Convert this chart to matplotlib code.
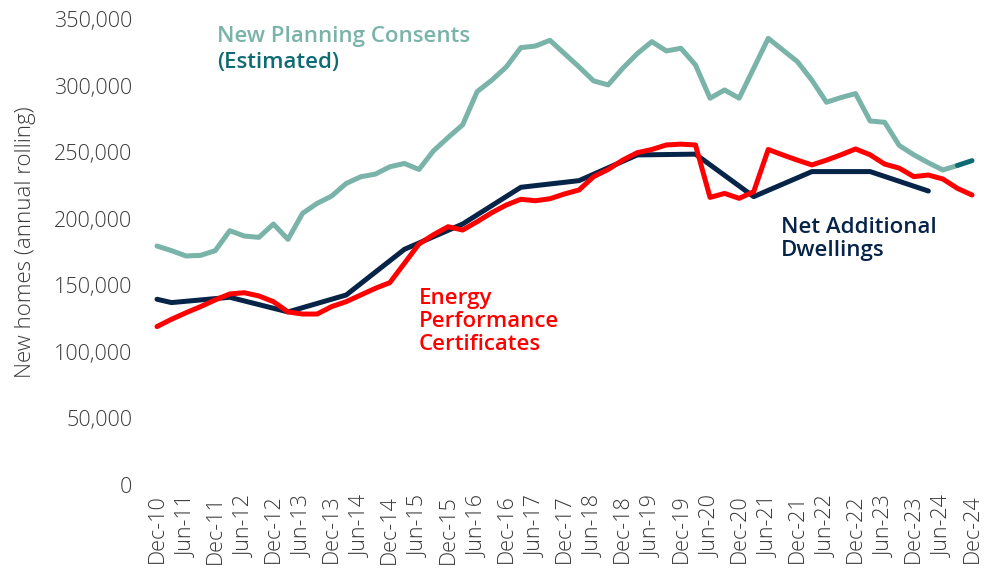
import matplotlib
matplotlib.use("Agg")
import matplotlib.pyplot as plt
import pandas as pd
from matplotlib.ticker import FuncFormatter

# quarterly axis, Dec-10 .. Dec-24
quarters = pd.date_range("2010-12-01", "2024-12-01", freq="3MS")
tick_labels = [d.strftime("%b-%y") for d in quarters]

# New planning consents (annual rolling)
consents = [179500, 176000, 172000, 172500, 176000, 191000, 187000, 186000,
            196000, 184500, 204000, 211500, 217000, 226500, 231500, 233500,
            239000, 241500, 237000, 251000, 261000, 270500, 295500, 304000,
            314000, 328500, 329700, 334000, 324000, 314000, 303500, 300500,
            313000, 324000, 333000, 326000, 328000, 315500, 290500, 296700,
            290500, 313000, 335500, 326700, 318000, 304000, 287500, 291000,
            294000, 273400, 272400, 255000, 248000, 242000, 236600, 240000,
            243600]

# Energy performance certificates
epc = [119000, 124500, 129400, 134000, 139000, 143500, 144400, 142000,
       137700, 130000, 128400, 128400, 134000, 137700, 142700, 147700,
       152000, 166500, 181000, 188000, 194000, 191500, 197800, 204500,
       210300, 214600, 213500, 215000, 218600, 221600, 231600, 237000,
       244000, 249600, 252000, 255400, 256000, 255400, 216000, 219000,
       215300, 220300, 252000, 247900, 244000, 240400, 244000, 248000,
       252400, 248000, 241000, 238000, 231600, 232800, 229800, 222800,
       217800]

# Net additional dwellings (annual, year to March)
nad_q = [0, 1, 5, 9, 13, 17, 21, 25, 29, 33, 37, 41, 45, 49, 53]
nad = [139500, 137000, 141000, 130000, 142700, 177000, 196000, 223600,
       228600, 247900, 248500, 216600, 235400, 235400, 220800]

c_green = "#7ab3a8"
c_teal = "#0f6b73"
c_red = "#ff0000"
c_navy = "#062448"
c_text = "#3a3a3a"

plt.rcParams["font.family"] = ["Open Sans", "DejaVu Sans"]

fig = plt.figure(figsize=(9.95, 5.79), dpi=100)
ax = fig.add_axes([157 / 995, 94 / 579, 815 / 995, 466 / 579])

x = list(range(len(quarters)))
lw = 3.6
ax.plot(x[:56], consents[:56], color=c_green, lw=lw, solid_capstyle="round",
        solid_joinstyle="round", clip_on=False)
ax.plot(x[55:], consents[55:], color=c_teal, lw=lw, solid_capstyle="round",
        clip_on=False)
ax.plot(nad_q, nad, color=c_navy, lw=lw, solid_capstyle="round",
        solid_joinstyle="round", clip_on=False)
ax.plot(x, epc, color=c_red, lw=lw, solid_capstyle="round",
        solid_joinstyle="round", clip_on=False)

ax.set_xlim(0, 56)
ax.set_ylim(0, 350000)
ax.set_yticks(range(0, 350001, 50000))
ax.yaxis.set_major_formatter(FuncFormatter(lambda v, p: f"{int(v):,}"))
ax.set_xticks(x[::2])
ax.set_xticklabels(tick_labels[::2], rotation=90)
ax.tick_params(length=0, labelsize=15.5, labelcolor=c_text)
ax.tick_params(axis="x", pad=7)
ax.tick_params(axis="y", pad=18)
for t in ax.get_xticklabels() + ax.get_yticklabels():
    t.set_fontweight("light")
ax.set_ylabel("New homes (annual rolling)", fontsize=16, color=c_text,
              fontweight="light")
ax.yaxis.set_label_coords(-0.148, 0.52)
for s in ax.spines.values():
    s.set_visible(False)

ax.text(4.1, 336500, "New Planning Consents", color=c_green, fontsize=16,
        fontweight="semibold", va="center")
ax.text(4.1, 317700, "(Estimated)", color=c_teal, fontsize=16,
        fontweight="semibold", va="center")
ax.text(18.0, 123000, "Energy\nPerformance\nCertificates", color=c_red,
        fontsize=16, fontweight="semibold", va="center", linespacing=1.13)
ax.text(42.9, 184700, "Net Additional\nDwellings", color=c_navy, fontsize=16,
        fontweight="semibold", va="center", linespacing=1.13)

fig.savefig("out.png", dpi=100)
